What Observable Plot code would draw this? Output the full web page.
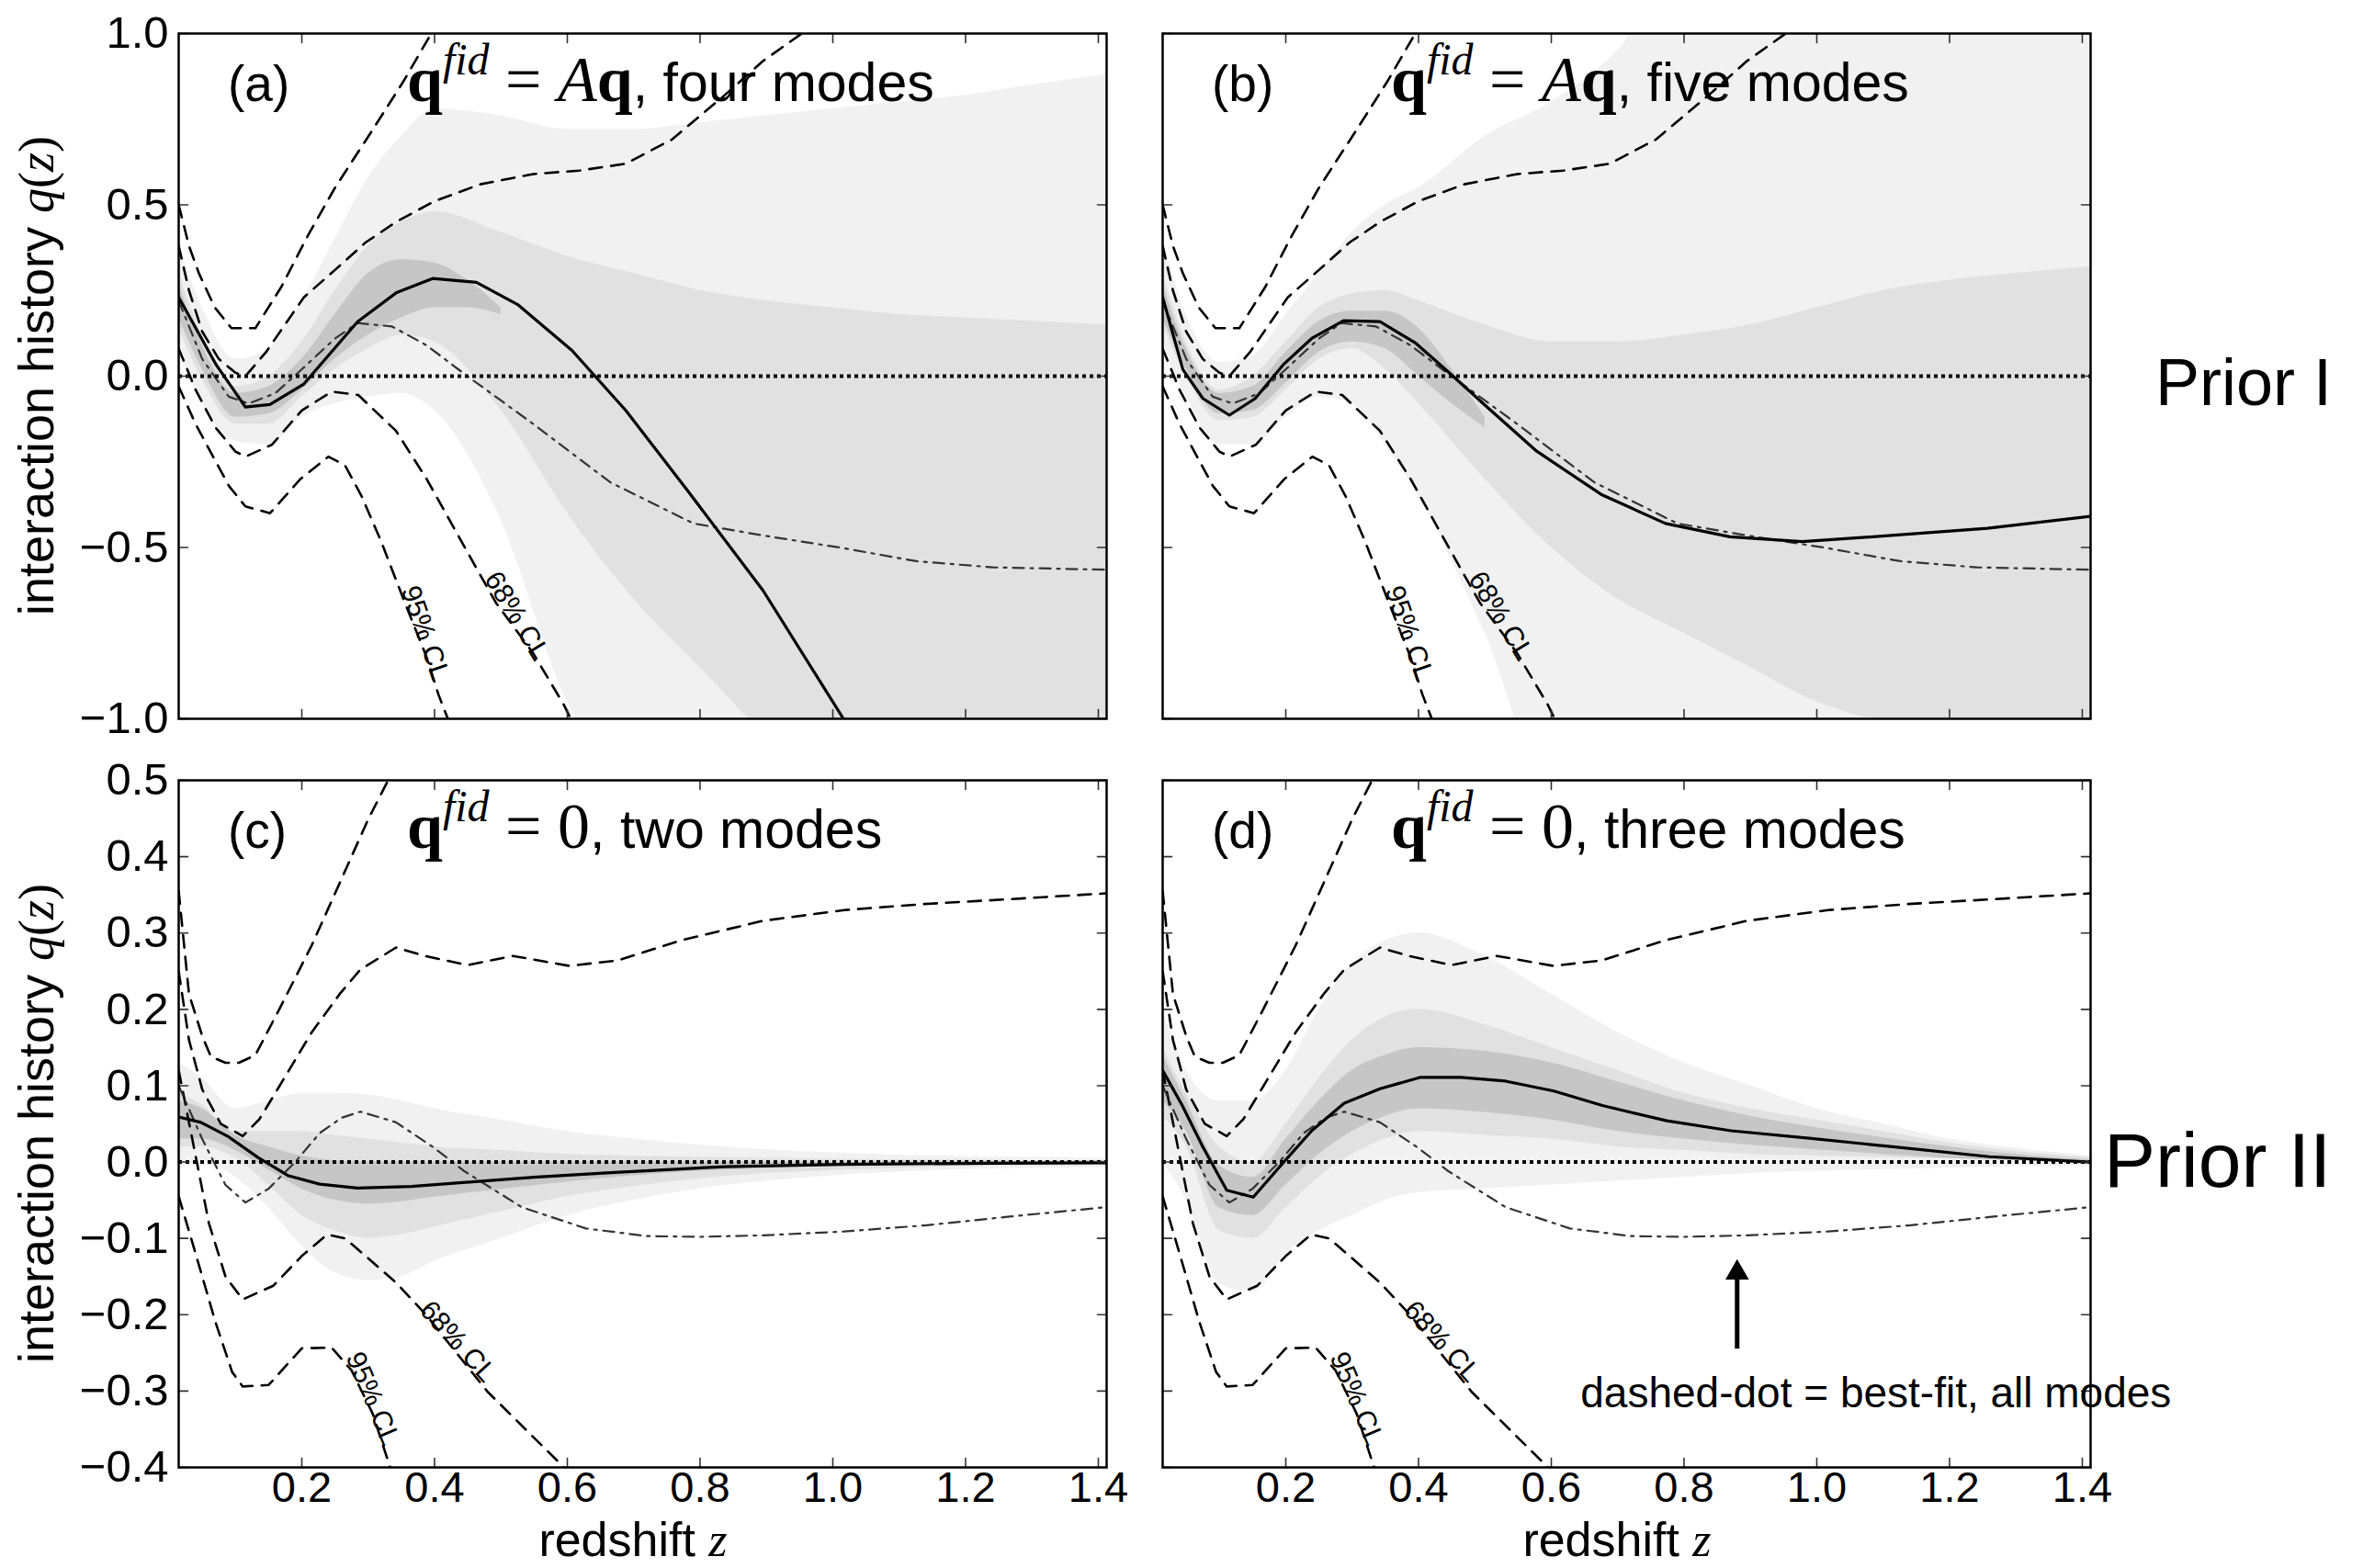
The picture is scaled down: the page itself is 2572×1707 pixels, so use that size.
<!DOCTYPE html>
<html><head><meta charset="utf-8">
<script src="https://cdn.jsdelivr.net/npm/d3@7"></script>
<script src="https://cdn.jsdelivr.net/npm/@observablehq/plot@0.6"></script>
<style>
html,body{margin:0;padding:0;background:#fff;}
#fig{position:relative;width:2572px;height:1707px;background:#fff;overflow:hidden;}
#fig svg{position:absolute;left:0;top:0;}
</style></head><body><div id="fig"></div>
<script>
// ---------------- data ----------------
const zDomain = [0.0145, 1.4125];
const xTicks = [0.2, 0.4, 0.6, 0.8, 1.0, 1.2, 1.4];
const yTicksPrior1 = [-1.0, -0.5, 0.0, 0.5, 1.0];
const yTicksPrior2 = [-0.4, -0.3, -0.2, -0.1, 0.0, 0.1, 0.2, 0.3, 0.4, 0.5];

// Prior I : confidence contours (dashed) and best fit with all modes (dash-dot)
const p1Upper95 = [[0.0145,0.50],[0.03,0.38],[0.045,0.30],[0.069,0.20],[0.094,0.14],[0.13,0.14],[0.169,0.26],[0.209,0.41],[0.25,0.55],[0.307,0.72],[0.353,0.86],[0.395,1.0],[0.42,1.07]];
const p1Upper68 = [[0.0145,0.38],[0.03,0.25],[0.05,0.13],[0.075,0.05],[0.1,0.01],[0.115,0.0],[0.146,0.07],[0.203,0.23],[0.25,0.31],[0.296,0.39],[0.342,0.45],[0.399,0.51],[0.469,0.56],[0.549,0.59],[0.618,0.60],[0.688,0.62],[0.757,0.69],[0.837,0.82],[0.895,0.92],[0.953,1.0],[0.98,1.05]];
const p1Lower68 = [[0.0145,0.08],[0.04,-0.04],[0.07,-0.15],[0.1,-0.22],[0.115,-0.235],[0.155,-0.2],[0.2,-0.10],[0.245,-0.045],[0.285,-0.055],[0.342,-0.16],[0.388,-0.30],[0.434,-0.46],[0.492,-0.66],[0.549,-0.81],[0.595,-0.96],[0.605,-1.0],[0.63,-1.08]];
const p1Lower95 = [[0.0145,-0.03],[0.04,-0.14],[0.065,-0.23],[0.09,-0.32],[0.115,-0.38],[0.152,-0.40],[0.198,-0.30],[0.24,-0.235],[0.265,-0.26],[0.29,-0.35],[0.319,-0.48],[0.353,-0.65],[0.388,-0.82],[0.406,-0.93],[0.42,-1.0],[0.435,-1.06]];
const p1BestAll = [[0.0145,0.22],[0.05,0.05],[0.09,-0.06],[0.12,-0.08],[0.16,-0.05],[0.2,0.02],[0.25,0.11],[0.284,0.155],[0.336,0.145],[0.388,0.09],[0.446,0.005],[0.549,-0.14],[0.665,-0.31],[0.79,-0.43],[0.895,-0.465],[1.01,-0.5],[1.126,-0.54],[1.241,-0.558],[1.4125,-0.565]];

// Prior II
const p2Upper95 = [[0.0145,0.355],[0.03,0.22],[0.05,0.165],[0.063,0.138],[0.085,0.13],[0.105,0.13],[0.13,0.14],[0.166,0.20],[0.215,0.284],[0.263,0.377],[0.30,0.449],[0.33,0.50],[0.36,0.56]];
const p2Upper68 = [[0.0145,0.25],[0.03,0.16],[0.05,0.095],[0.078,0.05],[0.111,0.034],[0.136,0.056],[0.166,0.099],[0.215,0.17],[0.257,0.22],[0.288,0.252],[0.342,0.281],[0.385,0.27],[0.45,0.258],[0.518,0.27],[0.603,0.257],[0.676,0.264],[0.774,0.291],[0.895,0.316],[1.017,0.33],[1.138,0.338],[1.26,0.344],[1.4125,0.352]];
const p2Lower68 = [[0.0145,0.12],[0.035,0.03],[0.06,-0.08],[0.085,-0.15],[0.111,-0.18],[0.157,-0.162],[0.2,-0.123],[0.238,-0.095],[0.265,-0.10],[0.296,-0.123],[0.342,-0.158],[0.388,-0.201],[0.434,-0.251],[0.48,-0.301],[0.538,-0.351],[0.595,-0.40],[0.62,-0.42]];
const p2Lower95 = [[0.0145,-0.045],[0.04,-0.12],[0.07,-0.21],[0.095,-0.275],[0.111,-0.294],[0.15,-0.292],[0.2,-0.244],[0.245,-0.243],[0.275,-0.273],[0.307,-0.33],[0.333,-0.40],[0.345,-0.43]];
const p2BestAll = [[0.0145,0.10],[0.05,0.03],[0.085,-0.03],[0.115,-0.053],[0.15,-0.035],[0.19,0.0],[0.227,0.038],[0.26,0.058],[0.288,0.066],[0.342,0.052],[0.397,0.02],[0.445,-0.012],[0.531,-0.059],[0.628,-0.087],[0.72,-0.097],[0.8,-0.098],[0.895,-0.096],[1.017,-0.091],[1.138,-0.083],[1.26,-0.072],[1.4125,-0.059]];

// best fit with the retained modes (solid)
const bestA = [[0.0145,0.23],[0.071,0.033],[0.115,-0.09],[0.152,-0.083],[0.203,-0.023],[0.284,0.159],[0.342,0.243],[0.397,0.285],[0.463,0.274],[0.526,0.208],[0.607,0.075],[0.688,-0.10],[0.78,-0.331],[0.895,-0.626],[1.016,-1.0],[1.05,-1.1]];
const bestB = [[0.0145,0.23],[0.045,0.019],[0.075,-0.065],[0.115,-0.114],[0.154,-0.065],[0.196,0.033],[0.239,0.11],[0.287,0.162],[0.342,0.159],[0.396,0.096],[0.445,0.012],[0.505,-0.093],[0.578,-0.219],[0.675,-0.345],[0.772,-0.43],[0.869,-0.469],[0.978,-0.483],[1.112,-0.465],[1.257,-0.444],[1.4125,-0.409]];
const bestC = [[0.0145,0.059],[0.048,0.052],[0.088,0.034],[0.134,0.006],[0.18,-0.018],[0.227,-0.029],[0.284,-0.034],[0.365,-0.032],[0.457,-0.026],[0.549,-0.02],[0.665,-0.014],[0.837,-0.006],[1.01,-0.003],[1.24,-0.0015],[1.4125,-0.001]];
const bestD = [[0.0145,0.12],[0.044,0.074],[0.075,0.02],[0.111,-0.037],[0.151,-0.046],[0.196,-0.001],[0.239,0.041],[0.288,0.077],[0.342,0.096],[0.403,0.111],[0.464,0.111],[0.531,0.106],[0.604,0.093],[0.677,0.074],[0.774,0.054],[0.871,0.041],[0.992,0.031],[1.114,0.02],[1.26,0.007],[1.4125,0.0]];

// spread of the sampled histories (grey): outer extent, bulk, dense core
const zBand = [0.0145,0.05,0.1,0.15,0.2,0.25,0.3,0.35,0.4,0.5,0.6,0.7,0.8,0.9,1.0,1.1,1.2,1.3,1.4125];
const zCoreP1 = [0.0145,0.05,0.1,0.15,0.2,0.25,0.3,0.35,0.4,0.45,0.5];
const aOuterLo = [0.08,-0.08,-0.19,-0.2,-0.12,-0.08,-0.06,-0.05,-0.10,-0.42,-0.95,-1.2,-1.2,-1.2,-1.2,-1.2,-1.2,-1.2,-1.2];
const aOuterHi = [0.38,0.20,0.05,0.08,0.22,0.40,0.58,0.70,0.78,0.76,0.72,0.72,0.74,0.76,0.78,0.80,0.82,0.85,0.88];
const aInnerLo = [0.14,-0.01,-0.14,-0.14,-0.06,0.02,0.08,0.12,0.10,-0.10,-0.40,-0.65,-0.85,-1.05,-1.2,-1.2,-1.2,-1.2,-1.2];
const aInnerHi = [0.30,0.12,-0.03,0.0,0.10,0.25,0.38,0.45,0.48,0.42,0.35,0.30,0.25,0.22,0.20,0.18,0.17,0.16,0.15];
const aCoreLo = [0.17,0.02,-0.12,-0.11,-0.04,0.05,0.12,0.17,0.2,0.2,0.18];
const aCoreHi = [0.27,0.09,-0.05,-0.03,0.05,0.18,0.30,0.34,0.33,0.28,0.20];
const bOuterLo = [0.08,-0.06,-0.2,-0.2,-0.12,-0.06,-0.08,-0.2,-0.35,-0.75,-1.2,-1.2,-1.2,-1.2,-1.2,-1.2,-1.2,-1.2,-1.2];
const bOuterHi = [0.40,0.18,0.04,0.06,0.18,0.30,0.42,0.50,0.55,0.70,0.80,0.95,1.2,1.2,1.2,1.2,1.2,1.2,1.2];
const bInnerLo = [0.15,0.0,-0.13,-0.12,-0.04,0.05,0.08,0.02,-0.08,-0.30,-0.50,-0.65,-0.75,-0.85,-0.95,-1.0,-1.0,-1.0,-1.0];
const bInnerHi = [0.30,0.10,-0.04,0.0,0.10,0.20,0.24,0.25,0.22,0.15,0.10,0.10,0.12,0.15,0.20,0.25,0.28,0.30,0.32];
const bCoreLo = [0.17,0.02,-0.11,-0.10,-0.02,0.07,0.10,0.08,0.0,-0.08,-0.15];
const bCoreHi = [0.27,0.08,-0.05,-0.03,0.07,0.16,0.19,0.19,0.14,0.02,-0.12];
const cOuterLo = [-0.01,0.0,-0.02,-0.06,-0.11,-0.145,-0.155,-0.15,-0.13,-0.10,-0.07,-0.05,-0.035,-0.025,-0.018,-0.013,-0.01,-0.008,-0.007];
const cOuterHi = [0.13,0.11,0.07,0.08,0.09,0.09,0.088,0.08,0.07,0.055,0.04,0.03,0.022,0.016,0.012,0.009,0.007,0.006,0.005];
const cInnerLo = [0.02,0.02,0.005,-0.03,-0.07,-0.09,-0.10,-0.095,-0.085,-0.065,-0.045,-0.032,-0.022,-0.015,-0.011,-0.008,-0.006,-0.005,-0.004];
const cInnerHi = [0.09,0.075,0.04,0.04,0.04,0.035,0.03,0.025,0.02,0.015,0.01,0.008,0.006,0.005,0.004,0.003,0.003,0.002,0.002];
const cCoreLo = [0.03,0.03,0.015,-0.01,-0.035,-0.05,-0.055,-0.052,-0.046,-0.036,-0.026,-0.018,-0.012,-0.008,-0.006,-0.004,-0.003,-0.003,-0.003];
const cCoreHi = [0.08,0.07,0.035,0.02,0.008,0.002,0.0,0.0,0.0,0.0,0.0,0.0,0.0,0.0,0.0,0.001,0.001,0.001,0.002];
const dOuterLo = [0.0,-0.05,-0.16,-0.17,-0.12,-0.09,-0.07,-0.05,-0.04,-0.035,-0.03,-0.025,-0.02,-0.015,-0.012,-0.01,-0.008,-0.006,-0.005];
const dOuterHi = [0.20,0.12,0.08,0.08,0.12,0.20,0.26,0.29,0.30,0.27,0.22,0.17,0.13,0.10,0.07,0.05,0.03,0.018,0.008];
const dInnerLo = [0.06,0.02,-0.09,-0.10,-0.06,-0.02,0.01,0.03,0.04,0.035,0.03,0.02,0.015,0.01,0.008,0.006,0.004,0.002,0.0];
const dInnerHi = [0.15,0.09,0.02,0.0,0.05,0.11,0.16,0.19,0.20,0.18,0.15,0.12,0.09,0.07,0.055,0.04,0.025,0.014,0.006];
const dCoreLo = [0.08,0.04,-0.06,-0.07,-0.03,0.01,0.04,0.06,0.07,0.065,0.055,0.04,0.03,0.022,0.016,0.01,0.005,0.002,0.0];
const dCoreHi = [0.14,0.08,-0.005,-0.02,0.03,0.08,0.12,0.14,0.15,0.145,0.13,0.105,0.08,0.06,0.045,0.032,0.02,0.01,0.003];

// contour labels (text, z, q, rotation in degrees)
const clLabelsP1 = [{text:"95% CL", z:0.386, q:-0.75, rot:71},{text:"68% CL", z:0.524, q:-0.70, rot:58.5}];
const clLabelsP2 = [{text:"95% CL", z:0.307, q:-0.31, rot:67},{text:"68% CL", z:0.435, q:-0.235, rot:48}];

const panelTags = ["(a)", "(b)", "(c)", "(d)"];
const panelRhs = ["A", "A", "0", "0"];
const panelModes = ["four modes", "five modes", "two modes", "three modes"];
const priorNames = ["Prior I", "Prior II"];
const noteText = "dashed-dot = best-fit, all modes";
const noteArrow = {z: 0.88, tail: -0.245, tip: -0.127};

// ---------------- layout ----------------
const W = 2572, H = 1707;
const SANS = "'Liberation Sans', Arial, Helvetica, sans-serif";
const SERIF = "'Liberation Serif', 'Times New Roman', serif";
const frames = [
  {x0:194, x1:1204, y0:36, y1:782},
  {x0:1265, x1:2275, y0:36, y1:782},
  {x0:194, x1:1204, y0:849, y1:1597},
  {x0:1265, x1:2275, y0:849, y1:1597}
];
const band = (zs, lo, hi) => zs.map((z, i) => ({z, lo: lo[i], hi: hi[i]}));
const panels = [
  {outer: band(zBand, aOuterLo, aOuterHi), inner: band(zBand, aInnerLo, aInnerHi), core: band(zCoreP1, aCoreLo, aCoreHi), best: bestA, prior: 1},
  {outer: band(zBand, bOuterLo, bOuterHi), inner: band(zBand, bInnerLo, bInnerHi), core: band(zCoreP1, bCoreLo, bCoreHi), best: bestB, prior: 1},
  {outer: band(zBand, cOuterLo, cOuterHi), inner: band(zBand, cInnerLo, cInnerHi), core: band(zBand, cCoreLo, cCoreHi), best: bestC, prior: 2},
  {outer: band(zBand, dOuterLo, dOuterHi), inner: band(zBand, dInnerLo, dInnerHi), core: band(zBand, dCoreLo, dCoreHi), best: bestD, prior: 2}
];

const tickShape = {draw(ctx, l) { ctx.moveTo(0, 0); ctx.lineTo(0, -l); }};
const fmt = d3.format(".1f");
const fig = document.getElementById("fig");

panels.forEach((p, k) => {
  const f = frames[k];
  const p1 = p.prior === 1;
  const yDom = p1 ? [-1, 1] : [-0.4, 0.5];
  const yTicks = p1 ? yTicksPrior1 : yTicksPrior2;
  const cls = p1 ? [p1Upper95, p1Upper68, p1Lower68, p1Lower95] : [p2Upper95, p2Upper68, p2Lower68, p2Lower95];
  const bestAll = p1 ? p1BestAll : p2BestAll;
  const labels = p1 ? clLabelsP1 : clLabelsP2;
  const showX = k >= 2, showY = k % 2 === 0;
  const tk = {stroke: "#333", strokeWidth: 1.6, length: 10, anchor: "start", shape: tickShape};
  const marks = [
    Plot.areaY(p.outer, {x: "z", y1: "lo", y2: "hi", fill: "#f1f1f1", curve: "monotone-x", clip: true}),
    Plot.areaY(p.inner, {x: "z", y1: "lo", y2: "hi", fill: "#e1e1e1", curve: "monotone-x", clip: true}),
    Plot.areaY(p.core, {x: "z", y1: "lo", y2: "hi", fill: "#c6c6c6", curve: "monotone-x", clip: true}),
    ...cls.map(c => Plot.line(c, {x: d => d[0], y: d => d[1], stroke: "black", strokeWidth: 2.6, strokeDasharray: "14,10", clip: true})),
    Plot.line(bestAll, {x: d => d[0], y: d => d[1], stroke: "#333", strokeWidth: 2.2, strokeDasharray: "12,7,3,7", clip: true}),
    Plot.line(p.best, {x: d => d[0], y: d => d[1], stroke: "black", strokeWidth: 3.2, clip: true}),
    Plot.ruleY([0], {stroke: "black", strokeWidth: 4, strokeDasharray: "4,4"}),
    Plot.text(labels, {x: "z", y: "q", text: "text", rotate: "rot", fontSize: 30, fill: "black", textAnchor: "middle", lineAnchor: "middle"}),
    Plot.vector(xTicks, {...tk, x: d => d, frameAnchor: "bottom", rotate: 0}),
    Plot.vector(xTicks, {...tk, x: d => d, frameAnchor: "top", rotate: 180}),
    Plot.vector(yTicks, {...tk, y: d => d, frameAnchor: "left", rotate: 90}),
    Plot.vector(yTicks, {...tk, y: d => d, frameAnchor: "right", rotate: -90}),
    Plot.frame({stroke: "black", strokeWidth: 2.5})
  ];
  if (showX) marks.push(Plot.axisX(xTicks, {tickSize: 0, tickPadding: 4, tickFormat: fmt, label: null, fontSize: 47}));
  if (showY) marks.push(Plot.axisY(yTicks, {tickSize: 0, tickPadding: 11, tickFormat: fmt, label: null, fontSize: 49}));
  if (k === 3) {
    marks.push(Plot.ruleX([noteArrow], {x: "z", y1: "tail", y2: d => d.tip - 0.02, stroke: "black", strokeWidth: 5}));
    marks.push(Plot.dot([noteArrow], {x: "z", y: d => d.tip - 0.018, symbol: "triangle", r: 9.5, fill: "black", stroke: "none"}));
    marks.push(Plot.text([noteText], {x: 0.644, y: -0.304, text: d => d, textAnchor: "start", lineAnchor: "middle", fontSize: 46, fill: "black"}));
  }
  const svg = Plot.plot({
    width: W, height: H,
    marginLeft: f.x0, marginRight: W - f.x1, marginTop: f.y0, marginBottom: H - f.y1,
    x: {domain: zDomain, axis: showX ? undefined : null},
    y: {domain: yDom, axis: showY ? undefined : null},
    style: {background: "transparent", fontFamily: SANS, fontSize: "49px", color: "black", overflow: "visible"},
    marks
  });
  fig.appendChild(svg);
  const s = d3.select(svg);

  // panel tag and title
  s.append("text").attr("x", f.x0 + 54).attr("y", f.y0 + 74).attr("text-anchor", "start")
    .attr("font-family", SANS).attr("font-size", 55).attr("fill", "black").text(panelTags[k]);
  const t = s.append("text").attr("x", f.x0 + 249).attr("y", f.y0 + 74).attr("text-anchor", "start")
    .attr("fill", "black").attr("font-size", 70).attr("font-family", SERIF);
  t.append("tspan").attr("font-weight", "bold").text("q");
  t.append("tspan").attr("font-style", "italic").attr("font-size", 48).attr("dy", -29).text("fid");
  t.append("tspan").attr("dy", 29).text(" = ");
  if (panelRhs[k] === "A") {
    t.append("tspan").attr("font-style", "italic").text("A");
    t.append("tspan").attr("font-weight", "bold").text("q");
  } else {
    t.append("tspan").text("0");
  }
  t.append("tspan").attr("font-family", SANS).attr("font-size", 59).text(", " + panelModes[k]);

  if (showY) {
    const yl = s.append("text").attr("transform", `translate(58,${(f.y0 + f.y1) / 2}) rotate(-90)`)
      .attr("text-anchor", "middle").attr("font-family", SANS).attr("font-size", 54).attr("fill", "black");
    yl.append("tspan").text("interaction history ");
    yl.append("tspan").attr("font-family", SERIF).attr("font-style", "italic").text("q");
    yl.append("tspan").attr("font-family", SERIF).text("(");
    yl.append("tspan").attr("font-family", SERIF).attr("font-style", "italic").text("z");
    yl.append("tspan").attr("font-family", SERIF).text(")");
  }
  if (showX) {
    const xl = s.append("text").attr("x", (f.x0 + f.x1) / 2 - 10).attr("y", 1694).attr("text-anchor", "middle")
      .attr("font-family", SANS).attr("font-size", 52).attr("fill", "black");
    xl.append("tspan").text("redshift ");
    xl.append("tspan").attr("font-family", SERIF).attr("font-style", "italic").text("z");
  }
  if (k === 1) s.append("text").attr("x", 2346).attr("y", 441).attr("text-anchor", "start")
    .attr("font-family", SANS).attr("font-size", 72).attr("fill", "black").text(priorNames[0]);
  if (k === 3) s.append("text").attr("x", 2290).attr("y", 1292).attr("text-anchor", "start")
    .attr("font-family", SANS).attr("font-size", 84).attr("fill", "black").text(priorNames[1]);
});
</script></body></html>
